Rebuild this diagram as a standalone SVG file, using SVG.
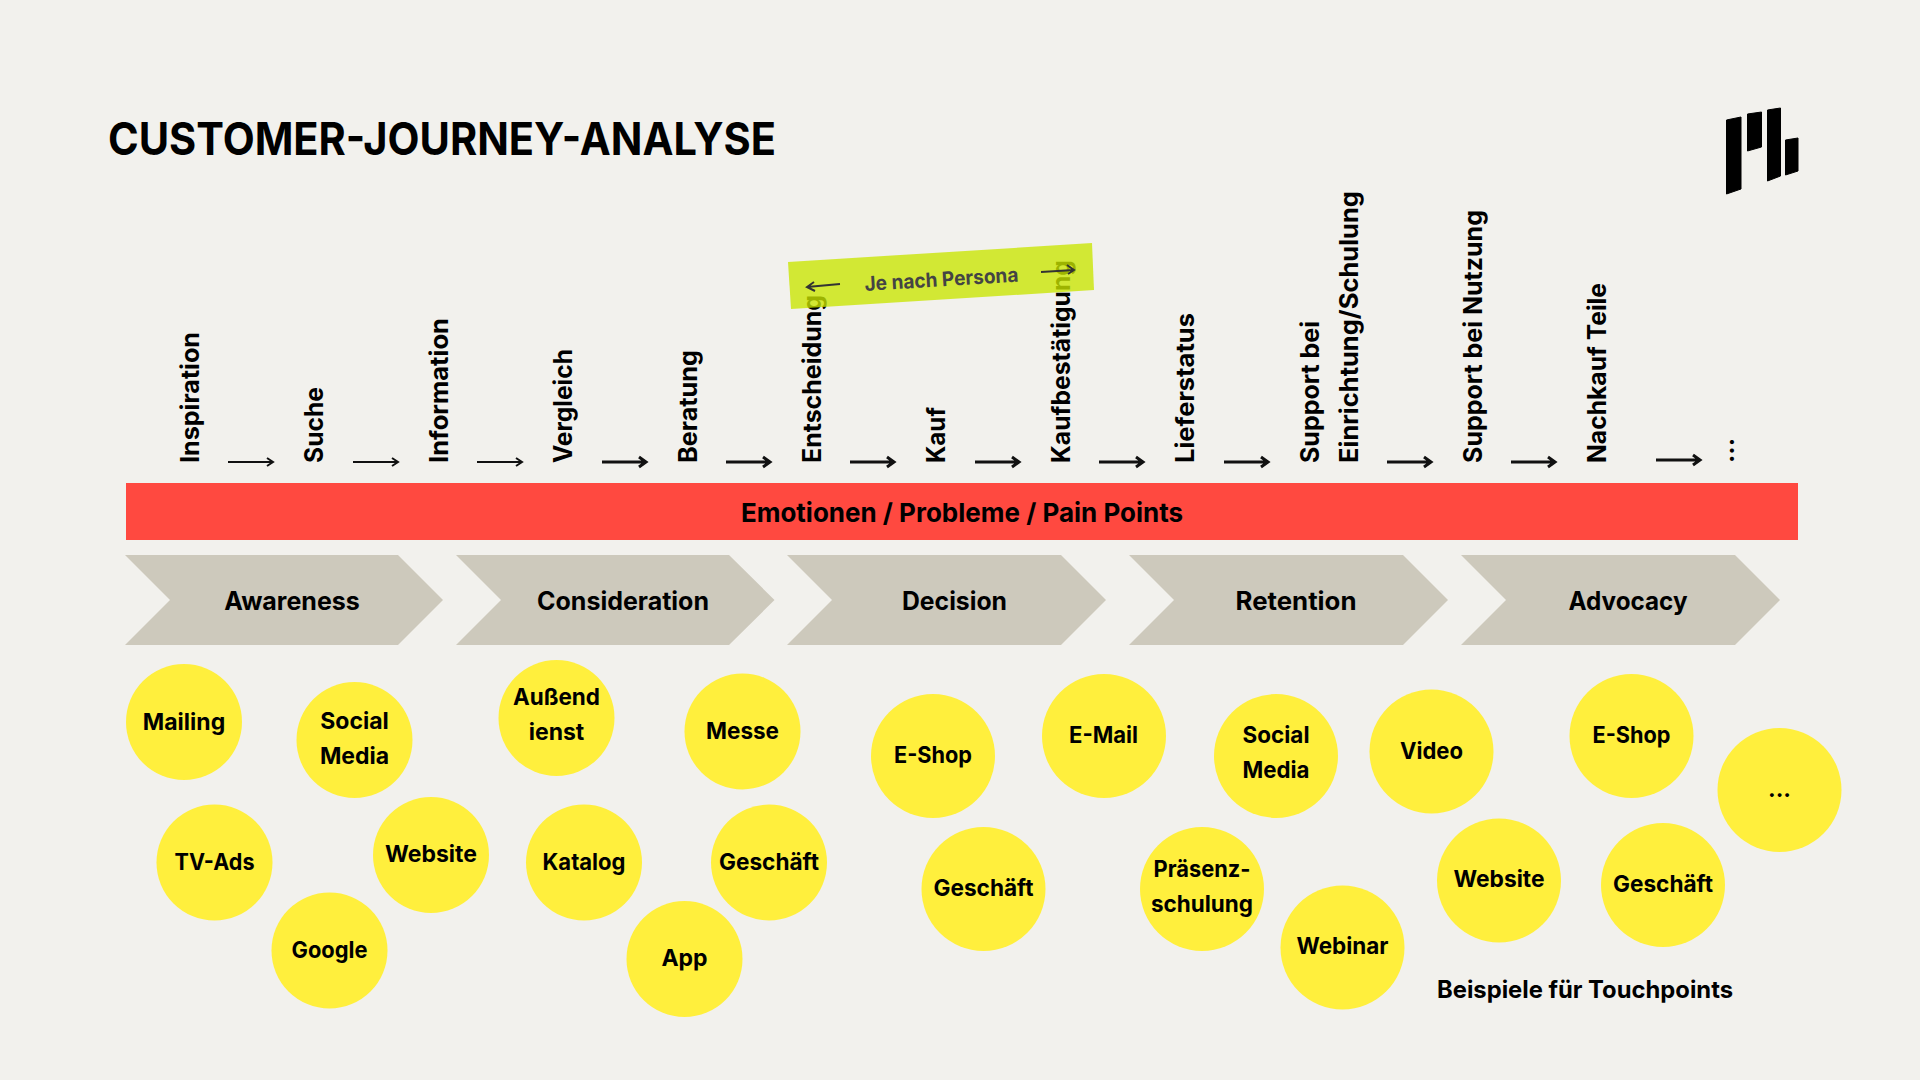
<svg xmlns="http://www.w3.org/2000/svg" width="1920" height="1080" viewBox="0 0 1920 1080">
<style>
text{font-family:"Inter","Liberation Sans",sans-serif;font-weight:700;fill:#000}
.v{font-size:25px}
.c{font-size:23px;text-anchor:middle}
.s{font-size:25px;text-anchor:middle}
.y{fill:#ffef3d}
.ch{fill:#cdc9bc}
.a{fill:none;stroke:#111;stroke-width:2}
.a2{fill:none;stroke:#111;stroke-width:3}
.g{fill:none;stroke:#333;stroke-width:2}
</style>
<rect width="1920" height="1080" fill="#f2f1ed"/>
<text id="title" x="108" y="155" font-size="45" textLength="668" lengthAdjust="spacingAndGlyphs">CUSTOMER-JOURNEY-ANALYSE</text>
<g id="logo" fill="#000" stroke="#000" stroke-width="1" stroke-linejoin="round">
<path d="M1726.500 120L1741 117V189L1726.500 194Z"/><path d="M1747.500 114L1761.500 112V147L1747.500 151Z"/><path d="M1767.500 110L1780.500 108V176L1767.500 181Z"/><path d="M1785.500 140L1798 138V171L1785.500 175Z"/>
</g>
<g id="steps">
<text class="v" textLength="131" lengthAdjust="spacingAndGlyphs" transform="translate(199 463) rotate(-90)">Inspiration</text>
<text class="v" textLength="76" lengthAdjust="spacingAndGlyphs" transform="translate(323 463) rotate(-90)">Suche</text>
<text class="v" textLength="145" lengthAdjust="spacingAndGlyphs" transform="translate(448 463) rotate(-90)">Information</text>
<text class="v" textLength="114" lengthAdjust="spacingAndGlyphs" transform="translate(572 463) rotate(-90)">Vergleich</text>
<text class="v" textLength="113" lengthAdjust="spacingAndGlyphs" transform="translate(697 463) rotate(-90)">Beratung</text>
<text class="v" textLength="168" lengthAdjust="spacingAndGlyphs" transform="translate(821 463) rotate(-90)">Entscheidung</text>
<text class="v" textLength="56" lengthAdjust="spacingAndGlyphs" transform="translate(945 463) rotate(-90)">Kauf</text>
<text class="v" textLength="203" lengthAdjust="spacingAndGlyphs" transform="translate(1070 463) rotate(-90)">Kaufbestätigung</text>
<text class="v" textLength="150" lengthAdjust="spacingAndGlyphs" transform="translate(1194 463) rotate(-90)">Lieferstatus</text>
<text class="v" textLength="142" lengthAdjust="spacingAndGlyphs" transform="translate(1319 463) rotate(-90)">Support bei</text>
<text class="v" textLength="272" lengthAdjust="spacingAndGlyphs" transform="translate(1358 463) rotate(-90)">Einrichtung/Schulung</text>
<text class="v" textLength="253" lengthAdjust="spacingAndGlyphs" transform="translate(1482 463) rotate(-90)">Support bei Nutzung</text>
<text class="v" textLength="180" lengthAdjust="spacingAndGlyphs" transform="translate(1606 463) rotate(-90)">Nachkauf Teile</text>
<text class="v" transform="translate(1734 463) rotate(-90)">...</text>
</g>
<g id="connectors">
<path class="a" d="M228 462H272M267 458L273 462L267 466"/>
<path class="a" d="M353 462H397M392 458L398 462L392 466"/>
<path class="a" d="M477 462H521M516 458L522 462L516 466"/>
<path class="a2" d="M602 462H645M639 457L646 462L639 467"/>
<path class="a2" d="M726 462H769M763 457L770 462L763 467"/>
<path class="a2" d="M850 462H893M887 457L894 462L887 467"/>
<path class="a2" d="M975 462H1018M1012 457L1019 462L1012 467"/>
<path class="a2" d="M1099 462H1142M1136 457L1143 462L1136 467"/>
<path class="a2" d="M1224 462H1267M1261 457L1268 462L1261 467"/>
<path class="a2" d="M1387 462H1430M1424 457L1431 462L1424 467"/>
<path class="a2" d="M1511 462H1554M1548 457L1555 462L1548 467"/>
<path class="a2" d="M1656 460H1699M1693 455L1700 460L1693 465"/>
</g>
<g id="persona">
<path d="M788 262L1092 243L1094 290L791 309Z" fill="#c9e500" fill-opacity=".78"/>
<text transform="translate(865 291) rotate(-3.500)" font-size="20" textLength="154" lengthAdjust="spacingAndGlyphs" style="fill:#444">Je nach Persona</text>
<path class="g" d="M840 284L807 287M814 282L807 287L815 291"/>
<path class="g" d="M1041 272L1074 270M1067 265L1074 270L1068 274"/>
</g>
<g id="bar"><rect x="126" y="483" width="1672" height="57" fill="#ff4940"/><text class="s" x="962" y="522" style="font-size:26px">Emotionen / Probleme / Pain Points</text></g>
<g id="p1"><path class="ch" d="M125 555H398L443 600L398 645H125L170 600Z"/><text class="s" x="292" y="610">Awareness</text></g>
<g id="p2"><path class="ch" d="M456 555H729L774.500 600L729 645H456L501 600Z"/><text class="s" x="623" y="610">Consideration</text></g>
<g id="p3"><path class="ch" d="M787 555H1061L1106 600L1061 645H787L832 600Z"/><text class="s" x="954.500" y="610" textLength="105" lengthAdjust="spacingAndGlyphs">Decision</text></g>
<g id="p4"><path class="ch" d="M1129 555H1403L1448 600L1403 645H1129L1174 600Z"/><text class="s" x="1296" y="610" textLength="121" lengthAdjust="spacingAndGlyphs">Retention</text></g>
<g id="p5"><path class="ch" d="M1461 555H1735L1780 600L1735 645H1461L1506 600Z"/><text class="s" x="1628" y="610" textLength="119" lengthAdjust="spacingAndGlyphs">Advocacy</text></g>
<g id="t1"><circle class="y" cx="184" cy="722" r="58"/><text class="c" x="184" y="730">Mailing</text></g>
<g id="t2"><circle class="y" cx="354.500" cy="740" r="58"/><text class="c" x="354.500" y="729">Social</text><text class="c" x="354.500" y="764">Media</text></g>
<g id="t3"><circle class="y" cx="556.500" cy="718" r="58"/><text class="c" x="556.500" y="705" textLength="87" lengthAdjust="spacingAndGlyphs">Außend</text><text class="c" x="556.500" y="740">ienst</text></g>
<g id="t4"><circle class="y" cx="742.500" cy="731.500" r="58"/><text class="c" x="742.500" y="739" textLength="73" lengthAdjust="spacingAndGlyphs">Messe</text></g>
<g id="t5"><circle class="y" cx="214.500" cy="862.500" r="58"/><text class="c" x="214.500" y="870" textLength="80" lengthAdjust="spacingAndGlyphs">TV-Ads</text></g>
<g id="t6"><circle class="y" cx="431" cy="855" r="58"/><text class="c" x="431" y="862">Website</text></g>
<g id="t7"><circle class="y" cx="329.500" cy="950.500" r="58"/><text class="c" x="329.500" y="958" textLength="76" lengthAdjust="spacingAndGlyphs">Google</text></g>
<g id="t8"><circle class="y" cx="584" cy="862.500" r="58"/><text class="c" x="584" y="870" textLength="83" lengthAdjust="spacingAndGlyphs">Katalog</text></g>
<g id="t9"><circle class="y" cx="769" cy="862.500" r="58"/><text class="c" x="769" y="870" textLength="100" lengthAdjust="spacingAndGlyphs">Geschäft</text></g>
<g id="t10"><circle class="y" cx="684.500" cy="959" r="58"/><text class="c" x="684.500" y="966">App</text></g>
<g id="t11"><circle class="y" cx="933" cy="756" r="62"/><text class="c" x="933" y="763" textLength="78" lengthAdjust="spacingAndGlyphs">E-Shop</text></g>
<g id="t12"><circle class="y" cx="1104" cy="736" r="62"/><text class="c" x="1103.500" y="743" textLength="69" lengthAdjust="spacingAndGlyphs">E-Mail</text></g>
<g id="t13"><circle class="y" cx="1276" cy="756" r="62"/><text class="c" x="1276" y="743" textLength="67" lengthAdjust="spacingAndGlyphs">Social</text><text class="c" x="1276" y="778" textLength="67" lengthAdjust="spacingAndGlyphs">Media</text></g>
<g id="t14"><circle class="y" cx="1431.500" cy="751.500" r="62"/><text class="c" x="1431.500" y="759" textLength="63" lengthAdjust="spacingAndGlyphs">Video</text></g>
<g id="t15"><circle class="y" cx="1631.500" cy="736" r="62"/><text class="c" x="1631.500" y="743" textLength="78" lengthAdjust="spacingAndGlyphs">E-Shop</text></g>
<g id="t16"><circle class="y" cx="1779.500" cy="790" r="62"/><text class="c" x="1779.500" y="797">...</text></g>
<g id="t17"><circle class="y" cx="983.500" cy="889" r="62"/><text class="c" x="983.500" y="896" textLength="100" lengthAdjust="spacingAndGlyphs">Geschäft</text></g>
<g id="t18"><circle class="y" cx="1202" cy="889" r="62"/><text class="c" x="1202" y="877" textLength="97" lengthAdjust="spacingAndGlyphs">Präsenz-</text><text class="c" x="1202" y="912" textLength="102" lengthAdjust="spacingAndGlyphs">schulung</text></g>
<g id="t19"><circle class="y" cx="1342.500" cy="947.500" r="62"/><text class="c" x="1342.500" y="954" textLength="92" lengthAdjust="spacingAndGlyphs">Webinar</text></g>
<g id="t20"><circle class="y" cx="1499" cy="880.500" r="62"/><text class="c" x="1499" y="887" textLength="91" lengthAdjust="spacingAndGlyphs">Website</text></g>
<g id="t21"><circle class="y" cx="1663" cy="885" r="62"/><text class="c" x="1663" y="892" textLength="100" lengthAdjust="spacingAndGlyphs">Geschäft</text></g>
<text id="note" x="1437" y="998" font-size="24" textLength="296" lengthAdjust="spacingAndGlyphs">Beispiele für Touchpoints</text>
</svg>
